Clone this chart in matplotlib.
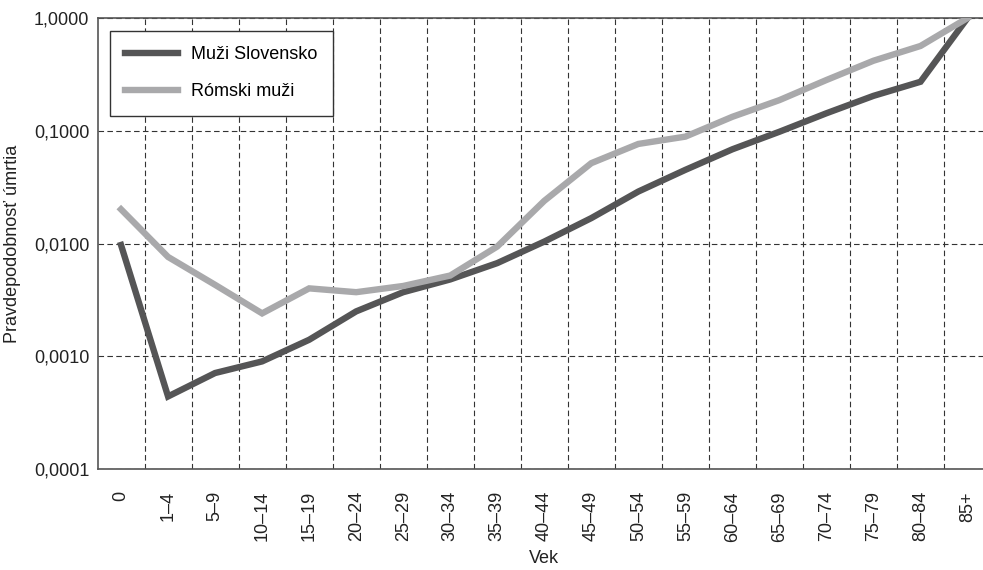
import matplotlib.pyplot as plt
from matplotlib.ticker import FixedLocator, NullFormatter

# vekové skupiny a pravdepodobnosť úmrtia
vek = ["0", "1–4", "5–9", "10–14", "15–19", "20–24", "25–29", "30–34",
       "35–39", "40–44", "45–49", "50–54", "55–59", "60–64", "65–69",
       "70–74", "75–79", "80–84", "85+"]
muzi_sk = [0.0097, 0.00044, 0.00071, 0.00090, 0.0014, 0.0025, 0.0037, 0.0048,
           0.0067, 0.0104, 0.0168, 0.0289, 0.045, 0.0685, 0.098,
           0.143, 0.204, 0.272, 1.0]
romski_muzi = [0.0201, 0.0076, 0.0043, 0.0024, 0.0040, 0.0037, 0.0042, 0.0052,
               0.0094, 0.0239, 0.0516, 0.0764, 0.0887, 0.133, 0.187,
               0.282, 0.418, 0.565, 1.0]
y_ticks = [0.0001, 0.001, 0.01, 0.1, 1.0]
y_labels = ["0,0001", "0,0010", "0,0100", "0,1000", "1,0000"]

plt.rcParams['font.family'] = ['Liberation Sans', 'DejaVu Sans']

fig = plt.figure(figsize=(9.83, 5.70), dpi=100, facecolor='w')
ax = fig.add_axes([0.0992, 0.1772, 0.909, 0.7912])

x = list(range(len(vek)))
ax.plot(x, muzi_sk, color="#555556", lw=4.6, label="Muži Slovensko",
        solid_joinstyle="miter", zorder=3)
ax.plot(x, romski_muzi, color="#a9a9ab", lw=4.6, label="Rómski muži",
        solid_joinstyle="miter", zorder=3)

ax.set_yscale("log")
ax.set_ylim(0.0001, 1.0)
ax.set_xlim(-0.5, len(vek) - 0.5)

ax.yaxis.set_major_locator(FixedLocator(y_ticks))
ax.set_yticklabels(y_labels)
ax.yaxis.set_minor_locator(FixedLocator([]))
ax.yaxis.set_minor_formatter(NullFormatter())
ax.set_xticks(x)
ax.set_xticklabels(vek, rotation=90)
ax.set_xticks([i + 0.5 for i in range(len(vek) - 1)], minor=True)

ax.tick_params(axis="both", which="both", length=0, labelsize=13,
               colors="#222222")
ax.tick_params(axis="y", pad=6)
ax.tick_params(axis="x", pad=16)

ax.grid(axis="y", which="major", color="#333333", lw=0.8,
        linestyle=(0, (5, 3)))
ax.grid(axis="x", which="minor", color="#333333", lw=0.8,
        linestyle=(0, (5, 3)))
ax.grid(axis="x", which="major", visible=False)

for side in ["left", "bottom", "top"]:
    ax.spines[side].set_color("#555555")
    ax.spines[side].set_linewidth(1.2)
ax.spines["right"].set_visible(False)

ax.set_xlabel("Vek", fontsize=13, color="#222222", labelpad=6)
ax.set_ylabel("Pravdepodobnosť úmrtia", fontsize=13, color="#222222",
              labelpad=9)

leg = ax.legend(loc="upper left", bbox_to_anchor=(0.014, 0.971),
                borderaxespad=0, fontsize=13,
                fancybox=False, framealpha=1, edgecolor="#333333",
                handlelength=2.9, handletextpad=0.75, borderpad=0.85,
                labelspacing=1.1)
leg.get_frame().set_linewidth(1.0)

fig.savefig("out.png", dpi=100, facecolor='w')
